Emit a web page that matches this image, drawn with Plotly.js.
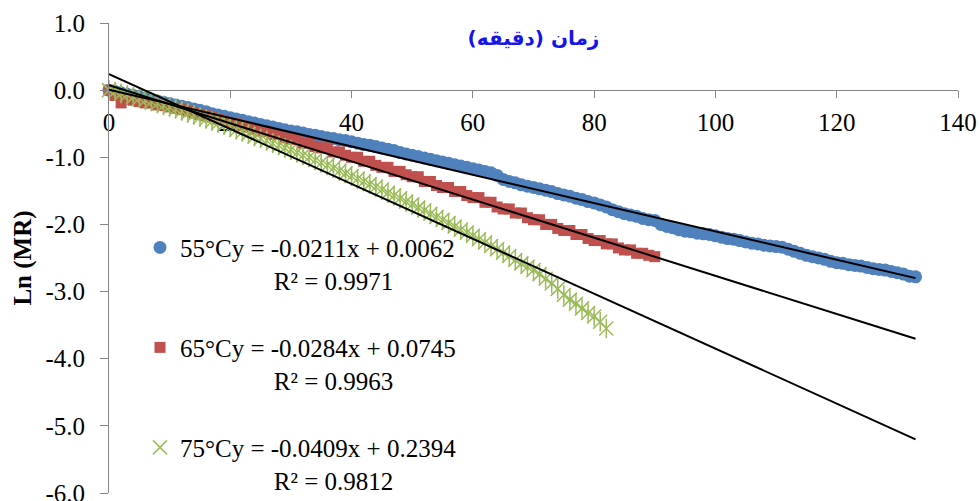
<!DOCTYPE html>
<html><head><meta charset="utf-8">
<script src="https://cdn.plot.ly/plotly-3.0.1.min.js"></script>
<style>html,body{margin:0;padding:0;background:#fff}#chart{width:980px;height:501px}</style>
</head><body><div id="chart"></div>
<script>
// drying time (minutes)
const minutes = [0,1,2,3,4,5,6,7,8,9,10,11,12,13,14,15,16,17,18,19,20,21,22,23,24,25,26,27,28,29,
30,31,32,33,34,35,36,37,38,39,40,41,42,43,44,45,46,47,48,49,50,51,52,53,54,55,56,57,58,59,
60,61,62,63,64,65,66,67,68,69,70,71,72,73,74,75,76,77,78,79,80,81,82,83,84,85,86,87,88,89,
90,91,92,93,94,95,96,97,98,99,100,101,102,103,104,105,106,107,108,109,110,111,112,113,114,115,116,117,118,119,
120,121,122,123,124,125,126,127,128,129,130,131,132,133];

// Ln(MR) at 55 °C
const lnMR55 = [0.00,-0.02,-0.04,-0.06,-0.08,-0.10,-0.12,-0.14,-0.16,-0.18,
-0.20,-0.22,-0.24,-0.26,-0.28,-0.30,-0.32,-0.35,-0.37,-0.39,
-0.41,-0.43,-0.45,-0.47,-0.49,-0.51,-0.53,-0.55,-0.57,-0.59,
-0.61,-0.62,-0.64,-0.66,-0.67,-0.69,-0.71,-0.72,-0.74,-0.75,
-0.77,-0.79,-0.81,-0.82,-0.84,-0.86,-0.88,-0.90,-0.93,-0.95,
-0.97,-0.99,-1.01,-1.03,-1.05,-1.07,-1.09,-1.11,-1.13,-1.15,
-1.17,-1.19,-1.21,-1.23,-1.27,-1.33,-1.36,-1.38,-1.41,-1.43,
-1.45,-1.47,-1.49,-1.51,-1.54,-1.56,-1.58,-1.61,-1.63,-1.66,
-1.68,-1.71,-1.74,-1.78,-1.81,-1.84,-1.86,-1.88,-1.91,-1.93,
-1.94,-2.00,-2.03,-2.05,-2.08,-2.10,-2.11,-2.13,-2.14,-2.15,
-2.17,-2.19,-2.21,-2.22,-2.24,-2.26,-2.28,-2.29,-2.31,-2.32,
-2.33,-2.34,-2.37,-2.40,-2.43,-2.46,-2.48,-2.50,-2.52,-2.55,
-2.57,-2.58,-2.60,-2.61,-2.62,-2.64,-2.66,-2.67,-2.68,-2.70,
-2.72,-2.74,-2.77,-2.78];

// Ln(MR) at 65 °C
const lnMR65 = [0.00,-0.08,-0.19,-0.14,-0.15,-0.17,-0.19,-0.19,-0.22,-0.23,
-0.25,-0.27,-0.29,-0.31,-0.34,-0.36,-0.38,-0.40,-0.43,-0.45,
-0.48,-0.50,-0.53,-0.55,-0.58,-0.61,-0.61,-0.66,-0.66,-0.71,
-0.73,-0.73,-0.79,-0.79,-0.84,-0.86,-0.86,-0.92,-0.92,-0.97,
-1.00,-1.00,-1.06,-1.06,-1.12,-1.15,-1.15,-1.21,-1.21,-1.26,
-1.29,-1.29,-1.36,-1.36,-1.42,-1.45,-1.45,-1.51,-1.51,-1.57,
-1.60,-1.60,-1.67,-1.67,-1.74,-1.77,-1.77,-1.83,-1.83,-1.90,
-1.93,-1.93,-2.00,-2.00,-2.06,-2.09,-2.09,-2.15,-2.15,-2.21,
-2.24,-2.24,-2.29,-2.29,-2.35,-2.38,-2.38,-2.43,-2.43,-2.46,
-2.48];

// Ln(MR) at 75 °C
const lnMR75 = [0.00,-0.02,-0.05,-0.07,-0.10,-0.12,-0.15,-0.17,-0.20,-0.23,
-0.25,-0.28,-0.31,-0.34,-0.37,-0.40,-0.43,-0.46,-0.49,-0.52,
-0.55,-0.59,-0.62,-0.65,-0.69,-0.72,-0.75,-0.79,-0.82,-0.86,
-0.89,-0.93,-0.97,-1.00,-1.04,-1.08,-1.12,-1.16,-1.20,-1.24,
-1.28,-1.32,-1.36,-1.40,-1.44,-1.48,-1.53,-1.57,-1.61,-1.66,
-1.70,-1.75,-1.79,-1.84,-1.89,-1.93,-1.98,-2.03,-2.08,-2.12,
-2.17,-2.22,-2.27,-2.32,-2.37,-2.42,-2.47,-2.53,-2.58,-2.63,
-2.68,-2.74,-2.81,-2.88,-2.96,-3.05,-3.12,-3.18,-3.25,-3.32,
-3.37,-3.45,-3.55];

const seriesNames = ['55°C', '65°C', '75°C'];
const slopes = [-0.0211, -0.0284, -0.0409];
const intercepts = [0.0062, 0.0745, 0.2394];
const equations = ['y = -0.0211x + 0.0062', 'y = -0.0284x + 0.0745', 'y = -0.0409x + 0.2394'];
const r2Labels = ['R² = 0.9971', 'R² = 0.9963', 'R² = 0.9812'];
const trendRange = [0, 133];

const xTickVals = [0, 20, 40, 60, 80, 100, 120, 140];
const yTickVals = [1, 0, -1, -2, -3, -4, -5, -6];
const yTickText = ['1.0', '0.0', '-1.0', '-2.0', '-3.0', '-4.0', '-5.0', '-6.0'];
const chartTitle = 'زمان (دقیقه)';
const yTitle = 'Ln (MR)';

const colors = ['#4F81BD', '#C0504D', '#9BBB59'];
const pad = '\u00A0'.repeat(15);
const legendName = i => seriesNames[i] + equations[i] + '<br>' + pad + r2Labels[i];

const yData = [lnMR55, lnMR65, lnMR75];
const xData = yData.map(arr => minutes.slice(0, arr.length));

const traces = [
  {x: xData[0], y: yData[0], type: 'scatter', mode: 'markers', name: legendName(0), legendgroup: 'g0',
   cliponaxis: false, marker: {symbol: 'circle', size: 13, color: colors[0]}},
  {x: xData[1], y: yData[1], type: 'scatter', mode: 'markers', name: legendName(1), legendgroup: 'g1',
   cliponaxis: false, marker: {symbol: 'square', size: 11, color: colors[1]}},
  {x: xData[2], y: yData[2], type: 'scatter', mode: 'markers', name: legendName(2), legendgroup: 'g2',
   cliponaxis: false, marker: {symbol: 'x-thin-open', size: 14, color: colors[2], line: {color: colors[2], width: 1.5}}},
  {x: xData[2], y: yData[2], type: 'scatter', mode: 'markers', showlegend: false, legendgroup: 'g2',
   cliponaxis: false, marker: {symbol: 'line-ns-open', size: 14, color: colors[2], line: {color: colors[2], width: 1.5}}}
];
for (let i = 0; i < 3; i++) {
  traces.push({
    x: trendRange.slice(),
    y: trendRange.map(v => slopes[i] * v + intercepts[i]),
    type: 'scatter', mode: 'lines', showlegend: false, hoverinfo: 'skip',
    line: {color: '#000000', width: 2}
  });
}

const axisGray = '#868686';
const layout = {
  width: 980, height: 501,
  margin: {l: 109, r: 22, t: 23, b: 8, autoexpand: false},
  paper_bgcolor: '#ffffff', plot_bgcolor: '#ffffff',
  font: {family: 'Liberation Serif, "Times New Roman", serif', size: 25, color: '#000000'},
  title: {
    text: '<b>' + chartTitle + '</b>',
    font: {family: 'DejaVu Sans, sans-serif', size: 20, color: '#1414EB'},
    x: 0.5, xref: 'paper', xanchor: 'center',
    y: 1 - 38 / 501, yref: 'container', yanchor: 'middle'
  },
  xaxis: {
    range: [0, 140], anchor: 'free', position: 6 / 7, side: 'bottom',
    tickvals: xTickVals, ticks: 'outside', ticklen: 7, tickwidth: 1, tickcolor: axisGray,
    showline: true, linecolor: axisGray, linewidth: 1, showgrid: false, zeroline: false,
    tickfont: {size: 25}, ticklabelstandoff: 3, ticklabeloverflow: 'allow', layer: 'below traces'
  },
  yaxis: {
    range: [-6, 1], tickvals: yTickVals, ticktext: yTickText,
    ticks: 'outside', ticklen: 8, tickwidth: 1, tickcolor: axisGray,
    showline: true, linecolor: axisGray, linewidth: 1, showgrid: false, zeroline: false,
    tickfont: {size: 25}, ticklabelstandoff: 10, ticklabeloverflow: 'allow',
    title: {text: '<b>' + yTitle + '</b>', font: {size: 25}, standoff: 6}
  },
  showlegend: true,
  legend: {
    x: (140 - 109) / 849, xanchor: 'left', y: 0.571, yanchor: 'top',
    bgcolor: 'rgba(0,0,0,0)', borderwidth: 0, traceorder: 'grouped', tracegroupgap: 32,
    valign: 'top', font: {size: 25}
  }
};

Plotly.newPlot('chart', traces, layout, {displayModeBar: false, staticPlot: true});
</script>
</body></html>
